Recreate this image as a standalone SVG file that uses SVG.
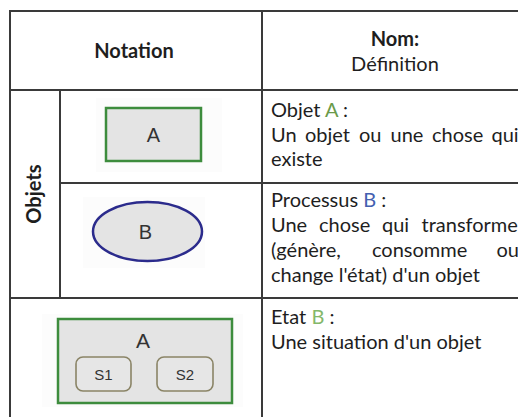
<svg xmlns="http://www.w3.org/2000/svg" width="518" height="417" viewBox="0 0 518 417">
<style>
.grid{stroke:#3a3a3a;stroke-width:2;fill:none}
.t{font-family:Lato,"Open Sans","Liberation Sans",sans-serif;font-size:20px;fill:#1e1e1e}
.h{font-family:Lato,"Open Sans","Liberation Sans",sans-serif;font-size:20px;font-weight:bold;fill:#1e1e1e}
.lbl{font-family:"Liberation Sans",Arial,sans-serif;fill:#333;text-anchor:middle}
.box{fill:#e4e4e4;stroke:#3d8c3d;stroke-width:2.5}
.st{fill:#e6e6e6;stroke:#8a8466;stroke-width:1.6}
.bg{fill:#fcfcfc}
</style>
<rect x="0" y="0" width="518" height="417" fill="#fff"/>
<g id="table">
<line class="grid" x1="10" y1="11" x2="518" y2="11"/>
<line class="grid" x1="10" y1="10" x2="10" y2="417"/>
<line class="grid" x1="262" y1="11" x2="262" y2="417"/>
<line class="grid" x1="10" y1="90" x2="518" y2="90"/>
<line class="grid" x1="60" y1="90" x2="60" y2="298"/>
<line class="grid" x1="60" y1="183" x2="518" y2="183"/>
<line class="grid" x1="10" y1="298" x2="518" y2="298"/>
</g>
<g id="headers">
<text class="h" x="134" y="58" text-anchor="middle">Notation</text>
<text class="h" x="395" y="46" text-anchor="middle">Nom:</text>
<text class="t" x="395" y="71" text-anchor="middle">Définition</text>
<text class="h" transform="translate(41,194) rotate(-90)" text-anchor="middle">Objets</text>
</g>
<g id="node-objet">
<rect class="bg" x="96" y="98" width="126" height="74"/>
<rect class="box" x="106" y="108" width="95" height="53"/>
<text class="lbl" x="153.5" y="142" font-size="20">A</text>
</g>
<g id="node-processus">
<rect class="bg" x="83" y="197" width="122" height="71"/>
<ellipse cx="147.5" cy="231.5" rx="54.5" ry="29.5" fill="#e4e4e4" stroke="#2b2b8c" stroke-width="2.5"/>
<text class="lbl" x="145.5" y="239" font-size="20">B</text>
</g>
<g id="node-etat">
<rect class="bg" x="42" y="314" width="201" height="93"/>
<rect class="box" x="58" y="319" width="174" height="84"/>
<text class="lbl" x="143" y="348" font-size="21">A</text>
<rect class="st" x="76" y="357" width="55" height="34" rx="7"/>
<text class="lbl" x="103.5" y="379.5" font-size="15">S1</text>
<rect class="st" x="157" y="357" width="56" height="34" rx="7"/>
<text class="lbl" x="185" y="379.5" font-size="15">S2</text>
</g>
<g id="def-objet">
<text class="t" x="271" y="117">Objet <tspan fill="#6a9a4a">A</tspan> :</text>
<text class="t" y="142"><tspan x="271">Un</tspan><tspan x="305">objet</tspan><tspan x="359">ou</tspan><tspan x="390.5">une</tspan><tspan x="432">chose</tspan><tspan x="491.5">qui</tspan></text>
<text class="t" x="271" y="166">existe</text>
</g>
<g id="def-processus">
<text class="t" x="271" y="207">Processus <tspan fill="#4460b0">B</tspan> :</text>
<text class="t" y="232"><tspan x="271">Une</tspan><tspan x="319">chose</tspan><tspan x="382">qui</tspan><tspan x="421.5">transforme</tspan></text>
<text class="t" y="257"><tspan x="271">(génère,</tspan><tspan x="372">consomme</tspan><tspan x="496.5">ou</tspan></text>
<text class="t" x="271" y="282">change l'état) d'un objet</text>
</g>
<g id="def-etat">
<text class="t" x="271" y="324">Etat <tspan fill="#84b86a">B</tspan> :</text>
<text class="t" x="271" y="349">Une situation d'un objet</text>
</g>
</svg>
